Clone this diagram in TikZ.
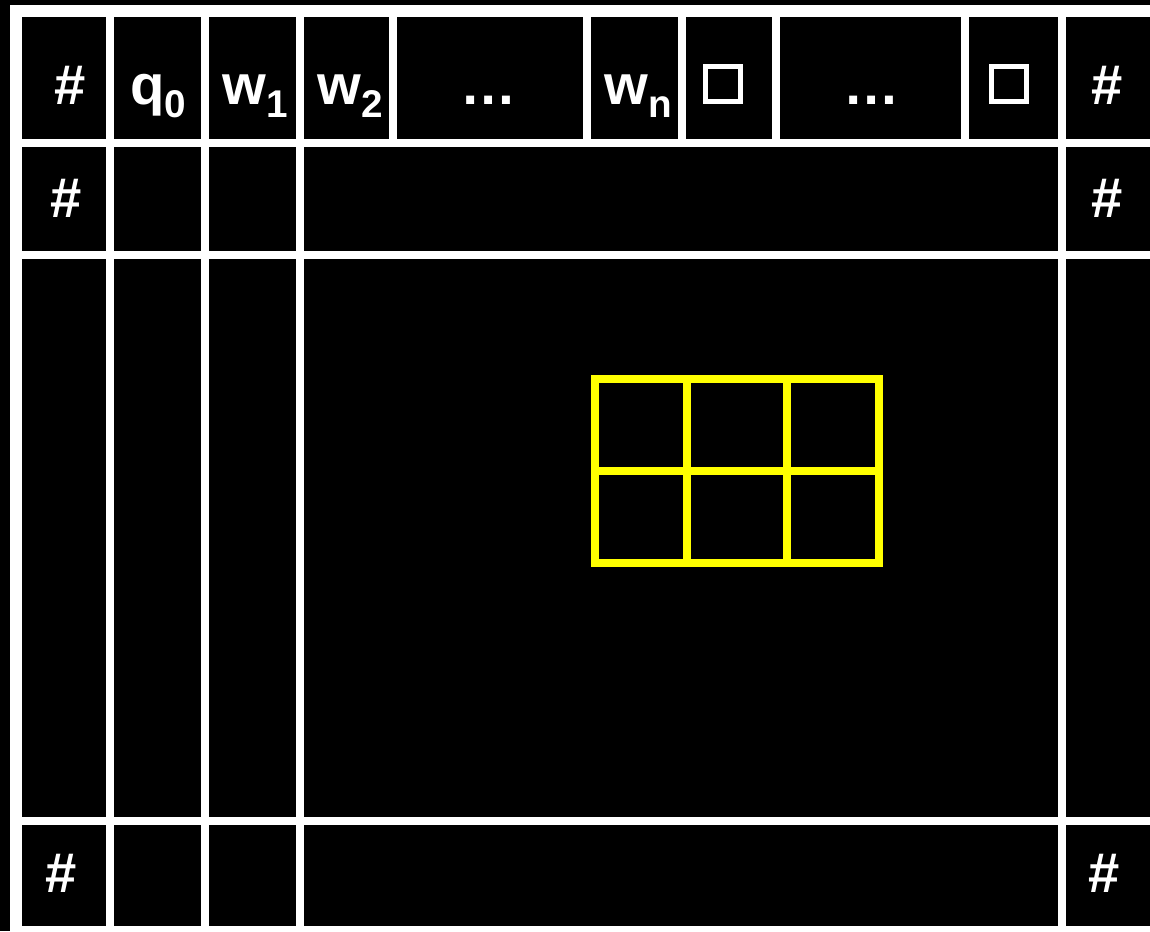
\documentclass[tikz,border=0pt]{standalone}
\usepackage{fontspec}
\setmainfont{Liberation Sans}
\newfontfamily\tapefont{Liberation Sans Bold}
\usetikzlibrary{positioning}
\definecolor{WinYellow}{HTML}{FFFF00}
\newcommand{\tapesub}[1]{\raisebox{-7.4pt}{\fontsize{22}{22}\selectfont #1}}

\begin{document}
\begin{tikzpicture}[
		x=0.02cm, y=-0.02cm,
		sym/.style={text=white, font=\tapefont\fontsize{32}{38}\selectfont,
			inner sep=0pt, anchor=base},
		blank/.style={draw=white, line width=0.1cm, minimum size=0.7cm, inner sep=0pt},
		cell/.style={fill=black},
		win/.style={draw=WinYellow, line width=0.16cm},
		]
		\useasboundingbox (0,0) rectangle (1150,931);
		% ── Background and white frame ───────────────────────────────────────────────
		\fill[black] (0,0) rectangle (1150,931);
		\fill[white] (10,5) rectangle (1150,931);
		% ── Top row: one cell per tape symbol ────────────────────────────────────────
		\foreach \xa/\xb in {22/106, 114/201, 209/296, 304/389, 397/583,
			591/678, 686/772, 780/961, 969/1058, 1066/1150}
		\fill[cell] (\xa,17) rectangle (\xb,139);
		% ── Lower rows ───────────────────────────────────────────────────────────────
		\foreach \ya/\yb in {147/251, 259/817, 825/926}
		\foreach \xa/\xb in {22/106, 114/201, 209/296, 304/1058, 1066/1150}
		\fill[cell] (\xa,\ya) rectangle (\xb,\yb);
		% ── Top row symbols ──────────────────────────────────────────────────────────
		\node[sym] (hashTL) at (70,104)   {\#};
		\node[sym] (qzero)  at (158,104)  {q\tapesub{0}};
		\node[sym] (wone)   at (255,104)  {w\tapesub{1}};
		\node[sym] (wtwo)   at (350,104)  {w\tapesub{2}};
		\node[sym] (dotsA)  at (489,104)  {…};
		\node[sym] (wn)     at (638,104)  {w\tapesub{n}};
		\node[blank] (blankA) at (723,84) {};
		\node[sym] (dotsB)  at (872,104)  {…};
		\node[blank] (blankB) at (1009,84) {};
		\node[sym] (hashTR) at (1107,104) {\#};
		% ── Border symbols of lower rows ─────────────────────────────────────────────
		\node[sym] (hashML) at (66,217)   {\#};
		\node[sym] (hashMR) at (1107,217) {\#};
		\node[sym] (hashBL) at (61,892)   {\#};
		\node[sym] (hashBR) at (1104,892) {\#};
		% ── Yellow 2x3 window ────────────────────────────────────────────────────────
		\draw[win] (595,379) rectangle (879,563);
		\draw[win] (687,379) -- (687,563);
		\draw[win] (787,379) -- (787,563);
		\draw[win] (595,471) -- (879,471);
	\end{tikzpicture}
\end{document}
